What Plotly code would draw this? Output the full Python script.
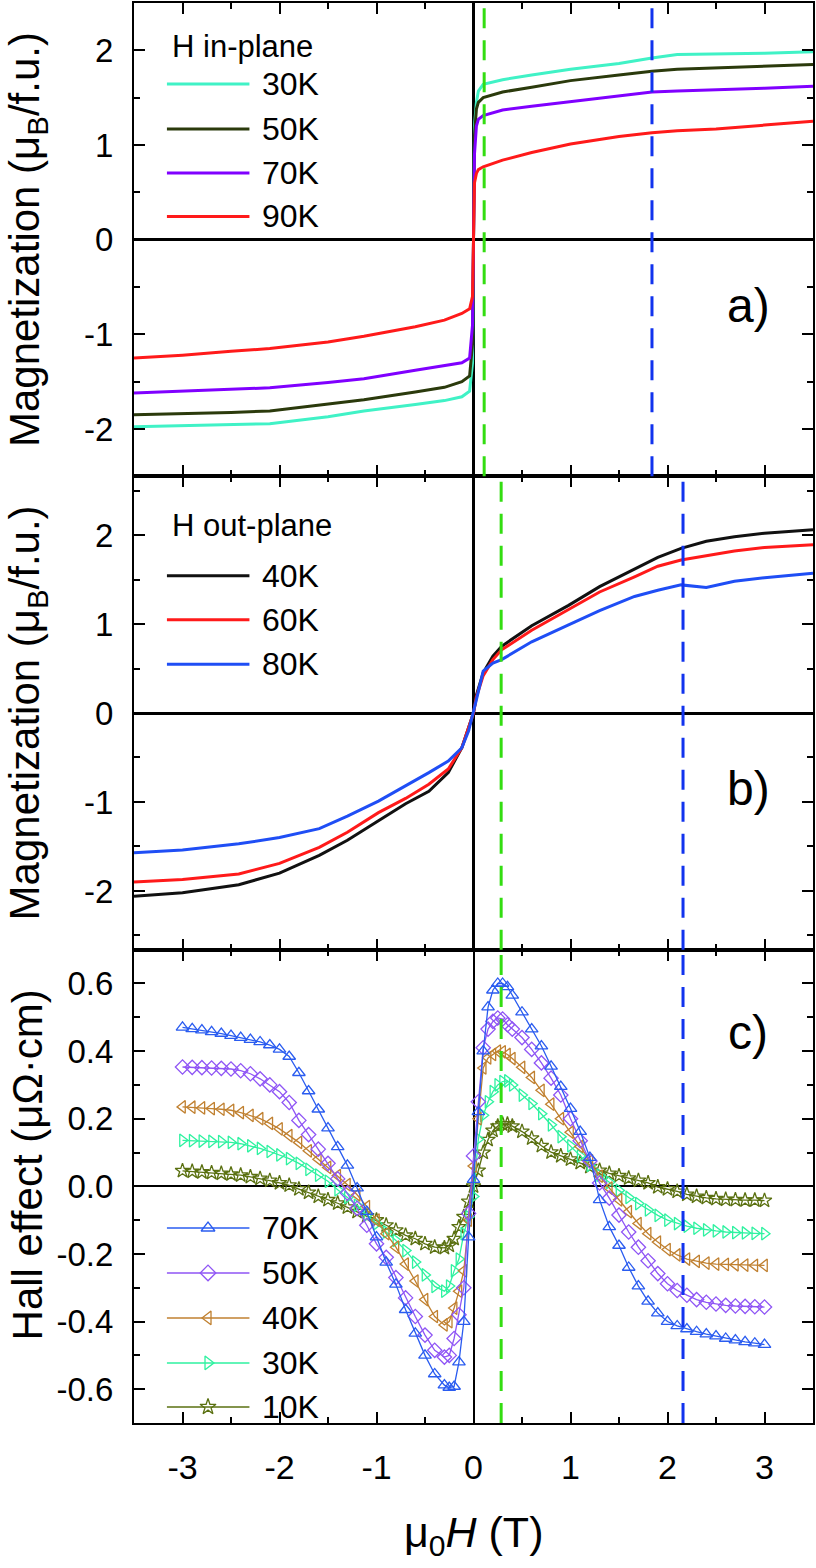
import plotly.graph_objects as go
from plotly.subplots import make_subplots

FONT = "Liberation Sans, Arial, sans-serif"

# ---------------- Panel a: M(H), H in-plane ----------------
H_a = [-3.5, -3.0, -2.5, -2.1, -1.5, -1.13, -0.6, -0.3, -0.12, -0.04, -0.01, 0.0,
       0.01, 0.03, 0.05, 0.1, 0.3, 0.6, 1.0, 1.5, 1.84, 2.1, 2.5, 3.0, 3.5]
M_a_30K = [-1.975, -1.965, -1.955, -1.945, -1.87, -1.81, -1.74, -1.70, -1.66, -1.60, -1.30, 0.0,
           1.20, 1.45, 1.57, 1.64, 1.69, 1.74, 1.80, 1.86, 1.92, 1.955, 1.96, 1.97, 1.985]
M_a_50K = [-1.85, -1.84, -1.825, -1.81, -1.74, -1.69, -1.61, -1.56, -1.50, -1.44, -1.10, 0.0,
           1.10, 1.38, 1.45, 1.50, 1.56, 1.61, 1.68, 1.74, 1.78, 1.80, 1.815, 1.83, 1.85]
M_a_70K = [-1.62, -1.60, -1.575, -1.565, -1.51, -1.47, -1.38, -1.33, -1.30, -1.25, -0.90, 0.0,
           0.90, 1.20, 1.27, 1.31, 1.37, 1.41, 1.46, 1.52, 1.56, 1.57, 1.58, 1.60, 1.62]
M_a_90K = [-1.25, -1.22, -1.18, -1.15, -1.08, -1.02, -0.92, -0.85, -0.78, -0.73, -0.60, 0.0,
           0.60, 0.70, 0.74, 0.77, 0.84, 0.92, 1.01, 1.09, 1.13, 1.15, 1.17, 1.21, 1.25]
labels_a = ["30K", "50K", "70K", "90K"]
colors_a = ["#40f2c6", "#2b3a0c", "#8000ff", "#ff1a1a"]

# ---------------- Panel b: M(H), H out-of-plane ----------------
H_b = [-3.5, -3.0, -2.42, -2.0, -1.59, -1.3, -0.98, -0.7, -0.46, -0.26, -0.12, -0.05, 0.0,
       0.03, 0.1, 0.2, 0.29, 0.6, 0.98, 1.3, 1.66, 1.9, 2.14, 2.4, 2.69, 3.0, 3.5]
M_b_40K = [-2.06, -2.02, -1.93, -1.80, -1.60, -1.43, -1.21, -1.02, -0.88, -0.67, -0.39, -0.17, 0.0,
           0.20, 0.45, 0.64, 0.75, 0.98, 1.21, 1.42, 1.62, 1.75, 1.85, 1.93, 1.98, 2.02, 2.06]
M_b_60K = [-1.90, -1.87, -1.81, -1.69, -1.51, -1.34, -1.12, -0.96, -0.80, -0.63, -0.39, -0.17, 0.0,
           0.18, 0.42, 0.60, 0.71, 0.93, 1.16, 1.36, 1.53, 1.65, 1.72, 1.77, 1.82, 1.86, 1.89]
M_b_80K = [-1.57, -1.54, -1.47, -1.40, -1.30, -1.16, -0.99, -0.82, -0.67, -0.54, -0.39, -0.20, 0.0,
           0.15, 0.47, 0.56, 0.60, 0.80, 0.99, 1.15, 1.31, 1.38, 1.44, 1.41, 1.48, 1.52, 1.57]
labels_b = ["40K", "60K", "80K"]
colors_b = ["#111111", "#ff1a1a", "#1f4ef5"]

# ---------------- Panel c: Hall effect ----------------
H_c = [-3.0, -2.9, -2.8, -2.7, -2.6, -2.5, -2.4, -2.3, -2.2, -2.1, -2.0, -1.9, -1.8, -1.7,
       -1.6, -1.5, -1.4, -1.3, -1.2, -1.1, -1.0, -0.9, -0.8, -0.7, -0.6, -0.5, -0.4,
       -0.3, -0.25, -0.2, -0.15, -0.1, -0.05, 0.0, 0.05, 0.1, 0.15, 0.2, 0.25, 0.3, 0.35,
       0.4, 0.5, 0.6, 0.7, 0.8, 0.9, 1.0, 1.1, 1.2, 1.3, 1.4, 1.5, 1.6, 1.7, 1.8, 1.9,
       2.0, 2.1, 2.2, 2.3, 2.4, 2.5, 2.6, 2.7, 2.8, 2.9, 3.0]
R_70K = [0.470, 0.466, 0.462, 0.457, 0.452, 0.446, 0.440, 0.434, 0.427, 0.418, 0.405, 0.384, 0.336, 0.282,
         0.228, 0.172, 0.117, 0.062, -0.005, -0.075, -0.150, -0.225, -0.29, -0.365, -0.435, -0.50, -0.555,
         -0.588, -0.595, -0.592, -0.52, -0.40, -0.15, 0.02, 0.22, 0.40, 0.53, 0.58, 0.60, 0.60, 0.59,
         0.565, 0.515, 0.465, 0.415, 0.355, 0.295, 0.230, 0.162, 0.085, -0.04, -0.12, -0.175, -0.24, -0.295, -0.34, -0.375,
         -0.40, -0.413, -0.422, -0.43, -0.437, -0.443, -0.45, -0.455, -0.46, -0.464, -0.468]
R_50K = [0.353, 0.352, 0.351, 0.350, 0.349, 0.347, 0.342, 0.333, 0.318, 0.300, 0.280, 0.248, 0.195, 0.153,
         0.110, 0.068, 0.022, -0.02, -0.065, -0.115, -0.17, -0.21, -0.27, -0.33, -0.385, -0.44, -0.485,
         -0.505, -0.50, -0.45, -0.38, -0.30, -0.08, 0.09, 0.25, 0.41, 0.465, 0.488, 0.498, 0.495, 0.478,
         0.465, 0.44, 0.405, 0.365, 0.32, 0.27, 0.20, 0.135, 0.075, 0.01, -0.035, -0.085, -0.135, -0.18, -0.22, -0.258,
         -0.288, -0.308, -0.322, -0.335, -0.343, -0.348, -0.352, -0.354, -0.355, -0.356, -0.357]
R_40K = [0.235, 0.234, 0.232, 0.230, 0.228, 0.225, 0.218, 0.210, 0.200, 0.186, 0.170, 0.150, 0.130, 0.105,
         0.080, 0.056, 0.032, 0.005, -0.025, -0.06, -0.10, -0.14, -0.18, -0.23, -0.28, -0.335, -0.385,
         -0.41, -0.40, -0.36, -0.31, -0.25, -0.10, 0.06, 0.20, 0.35, 0.38, 0.39, 0.40, 0.398, 0.39,
         0.378, 0.352, 0.322, 0.284, 0.243, 0.20, 0.16, 0.118, 0.075, 0.03, -0.005, -0.04, -0.075, -0.11, -0.14, -0.165,
         -0.187, -0.203, -0.215, -0.222, -0.227, -0.23, -0.231, -0.232, -0.233, -0.234, -0.234]
R_30K = [0.136, 0.135, 0.134, 0.133, 0.132, 0.130, 0.126, 0.120, 0.112, 0.103, 0.093, 0.082, 0.068, 0.050,
         0.033, 0.015, -0.01, -0.033, -0.056, -0.085, -0.11, -0.135, -0.16, -0.19, -0.224, -0.262, -0.296,
         -0.31, -0.295, -0.25, -0.215, -0.14, -0.09, -0.03, 0.14, 0.21, 0.25, 0.28, 0.30, 0.31, 0.312,
         0.30, 0.27, 0.245, 0.215, 0.182, 0.147, 0.12, 0.09, 0.062, 0.033, 0.012, -0.012, -0.033, -0.051, -0.07, -0.086,
         -0.10, -0.11, -0.118, -0.124, -0.129, -0.132, -0.135, -0.137, -0.138, -0.139, -0.14]
R_10K = [0.046, 0.044, 0.042, 0.040, 0.038, 0.036, 0.033, 0.028, 0.023, 0.017, 0.010, 0.003, -0.008, -0.018,
         -0.03, -0.04, -0.05, -0.062, -0.075, -0.088, -0.10, -0.115, -0.13, -0.145, -0.155, -0.17, -0.18,
         -0.182, -0.175, -0.155, -0.12, -0.09, -0.045, 0.0, 0.047, 0.10, 0.138, 0.165, 0.178, 0.184, 0.184,
         0.178, 0.162, 0.142, 0.12, 0.101, 0.09, 0.08, 0.07, 0.058, 0.047, 0.038, 0.031, 0.024, 0.017, 0.01, -0.002,
         -0.008, -0.015, -0.024, -0.03, -0.034, -0.037, -0.039, -0.04, -0.041, -0.041, -0.042]
labels_c = ["70K", "50K", "40K", "30K", "10K"]
colors_c = ["#2a5cf0", "#8f55f5", "#c08030", "#2ef2a0", "#5a7010"]
symbols_c = ["triangle-up-open", "diamond-open", "triangle-left-open", "triangle-right-open", "star-open"]

# guide lines (field positions, T)
guides_a = [0.11, 1.84]
guides_bc = [0.285, 2.16]
guide_colors = ["#33dd11", "#1133ee"]

for arr in (M_a_30K, M_a_50K, M_a_70K, M_a_90K):
    assert len(arr) == len(H_a)
for arr in (M_b_40K, M_b_60K, M_b_80K):
    assert len(arr) == len(H_b)
for arr in (R_70K, R_50K, R_40K, R_30K, R_10K):
    assert len(arr) == len(H_c), len(arr)

fig = make_subplots(rows=3, cols=1, shared_xaxes=False, vertical_spacing=0)

for y, c in zip([M_a_30K, M_a_50K, M_a_70K, M_a_90K], colors_a):
    fig.add_trace(go.Scatter(x=H_a, y=y, mode="lines", line=dict(color=c, width=3),
                             showlegend=False), row=1, col=1)
for y, c in zip([M_b_40K, M_b_60K, M_b_80K], colors_b):
    fig.add_trace(go.Scatter(x=H_b, y=y, mode="lines", line=dict(color=c, width=3),
                             showlegend=False), row=2, col=1)
series_c = [R_70K, R_50K, R_40K, R_30K, R_10K]
for y, c, s in zip(series_c[::-1], colors_c[::-1], symbols_c[::-1]):
    fig.add_trace(go.Scatter(x=H_c, y=y, mode="lines+markers", line=dict(color=c, width=1.3),
                             marker=dict(symbol=s, size=11, color=c, line=dict(color=c, width=1.3)),
                             showlegend=False), row=3, col=1)

XR = [-3.5, 3.5]
YR = {1: [-2.5, 2.5], 2: [-2.66, 2.66], 3: [-0.7, 0.7]}

# dashed guide lines
for row, gl in ((1, guides_a), (2, guides_bc), (3, guides_bc)):
    xr = "x" if row == 1 else f"x{row}"
    yr = "y domain" if row == 1 else f"y{row} domain"
    for v, c in zip(gl, guide_colors):
        fig.add_shape(type="line", xref=xr, yref=yr, x0=v, x1=v, y0=0, y1=1,
                      line=dict(color=c, width=3, dash="20px,12px"))

# custom legends
def legend(row, title, title_y, labels, colors, ys, lw, symbols=None):
    xr = "x domain" if row == 1 else f"x{row} domain"
    yr = "y domain" if row == 1 else f"y{row} domain"
    if title:
        fig.add_annotation(text=title, xref=xr, yref=yr, x=0.053, y=title_y, xanchor="left",
                           yanchor="middle", showarrow=False, font=dict(size=31, family=FONT, color="black"))
    for i, (lab, c, yy) in enumerate(zip(labels, colors, ys)):
        fig.add_shape(type="line", xref=xr, yref=yr, x0=0.0485, x1=0.170, y0=yy, y1=yy,
                      line=dict(color=c, width=lw))
        fig.add_annotation(text=lab, xref=xr, yref=yr, x=0.185, y=yy, xanchor="left",
                           yanchor="middle", showarrow=False, font=dict(size=32, family=FONT, color="black"))
        if symbols:
            yrng = YR[row]
            fig.add_trace(go.Scatter(x=[XR[0] + 0.109 * (XR[1] - XR[0])],
                                     y=[yrng[0] + yy * (yrng[1] - yrng[0])],
                                     mode="markers", showlegend=False, hoverinfo="skip",
                                     marker=dict(symbol=symbols[i], size=12, color=c,
                                                 line=dict(color=c, width=1.3))), row=row, col=1)

legend(1, "H in-plane", 0.909, labels_a, colors_a, [0.829, 0.734, 0.641, 0.549], 3)
legend(2, "H out-plane", 0.897, labels_b, colors_b, [0.790, 0.697, 0.603], 3)
legend(3, None, None, labels_c, colors_c, [0.412, 0.317, 0.222, 0.127, 0.034], 1.5, symbols_c)

# panel labels
for row, lab, yy in ((1, "a)", 0.36), (2, "b)", 0.34), (3, "c)", 0.825)):
    yr = "y domain" if row == 1 else f"y{row} domain"
    fig.add_annotation(text=lab, xref="paper", yref=yr, x=0.905, y=yy, xanchor="center",
                       yanchor="middle", showarrow=False, font=dict(size=48, family=FONT, color="black"))

# axis titles
for row, txt, yy in ((1, "Magnetization (μ<sub>B</sub>/f.u.)", 0.5),
                     (2, "Magnetization (μ<sub>B</sub>/f.u.)", 0.5),
                     (3, "Hall effect (μΩ·cm)", 0.545)):
    yr = "y domain" if row == 1 else f"y{row} domain"
    fig.add_annotation(text=txt, xref="paper", yref=yr, x=-0.157, y=yy, xanchor="center",
                       yanchor="middle", textangle=-90, showarrow=False,
                       font=dict(size=42, family=FONT, color="black"))
fig.add_annotation(text="μ<sub>0</sub><i>H</i> (T)", xref="paper", yref="paper", x=0.5, y=-0.079,
                   xanchor="center", yanchor="middle", showarrow=False,
                   font=dict(size=43, family=FONT, color="black"))

def fmt(v, nd):
    return f"{v:.{nd}f}"

xticks = [-3, -2, -1, 0, 1, 2, 3]
xminor = [-3.5, -2.5, -1.5, -0.5, 0.5, 1.5, 2.5, 3.5]
axis_common = dict(showline=True, linewidth=2, linecolor="black", mirror="ticks", ticks="inside",
                   ticklen=11, tickwidth=2, tickcolor="black", showgrid=False,
                   zeroline=True, zerolinecolor="black")
zlw = {1: 3, 2: 2.5, 3: 1.5}
zlw_x = {1: 3, 2: 3, 3: 1.5}
for row in (1, 2, 3):
    fig.update_xaxes(range=XR, tickmode="array", tickvals=xticks, ticktext=[str(t) for t in xticks],
                     minor=dict(tickmode="array", tickvals=xminor, ticks="inside", ticklen=6, tickwidth=2,
                                tickcolor="black"),
                     showticklabels=(row == 3), ticklabelstandoff=13, zerolinewidth=zlw_x[row],
                     tickfont=dict(size=34, family=FONT, color="black"),
                     **axis_common, row=row, col=1)

yt_ab = [-2, -1, 0, 1, 2]
ym_ab = [-2.5, -1.5, -0.5, 0.5, 1.5, 2.5]
for row in (1, 2):
    fig.update_yaxes(range=YR[row], tickmode="array", tickvals=yt_ab, ticktext=[str(t) for t in yt_ab],
                     minor=dict(tickmode="array", tickvals=ym_ab, ticks="inside", ticklen=6, tickwidth=2,
                                tickcolor="black"),
                     ticklabelstandoff=12, zerolinewidth=zlw[row],
                     tickfont=dict(size=33, family=FONT, color="black"),
                     **axis_common, row=row, col=1)
yt_c = [-0.6, -0.4, -0.2, 0.0, 0.2, 0.4, 0.6]
ym_c = [-0.7, -0.5, -0.3, -0.1, 0.1, 0.3, 0.5, 0.7]
fig.update_yaxes(range=YR[3], tickmode="array", tickvals=yt_c, ticktext=[fmt(t, 1) for t in yt_c],
                 minor=dict(tickmode="array", tickvals=ym_c, ticks="inside", ticklen=6, tickwidth=2,
                            tickcolor="black"),
                 ticklabelstandoff=12, zerolinewidth=zlw[3],
                 tickfont=dict(size=33, family=FONT, color="black"),
                 **axis_common, row=3, col=1)

fig.update_layout(width=816, height=1568, margin=dict(l=134, r=1, t=1, b=145),
                  paper_bgcolor="white", plot_bgcolor="white",
                  font=dict(family=FONT, size=32, color="black"), showlegend=False)

fig.write_html("out.html")
